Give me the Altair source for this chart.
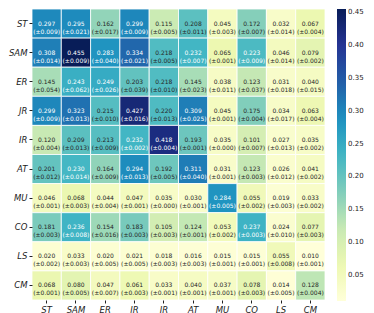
import altair as alt
import pandas as pd

labels = ["ST", "SAM", "ER", "JR", "IR", "AT", "MU", "CO", "LS", "CM"]

row_ST  = [0.297, 0.295, 0.162, 0.299, 0.115, 0.208, 0.045, 0.172, 0.032, 0.067]
row_SAM = [0.308, 0.455, 0.283, 0.334, 0.218, 0.232, 0.065, 0.223, 0.046, 0.079]
row_ER  = [0.145, 0.243, 0.249, 0.203, 0.218, 0.145, 0.038, 0.123, 0.031, 0.040]
row_JR  = [0.299, 0.323, 0.215, 0.427, 0.220, 0.309, 0.045, 0.175, 0.034, 0.063]
row_IR  = [0.120, 0.209, 0.213, 0.232, 0.418, 0.193, 0.035, 0.101, 0.027, 0.035]
row_AT  = [0.201, 0.230, 0.164, 0.294, 0.192, 0.311, 0.031, 0.123, 0.026, 0.041]
row_MU  = [0.046, 0.068, 0.044, 0.047, 0.035, 0.030, 0.284, 0.055, 0.019, 0.033]
row_CO  = [0.181, 0.236, 0.154, 0.183, 0.105, 0.124, 0.053, 0.237, 0.024, 0.077]
row_LS  = [0.020, 0.033, 0.020, 0.021, 0.018, 0.016, 0.015, 0.015, 0.055, 0.010]
row_CM  = [0.068, 0.080, 0.047, 0.061, 0.033, 0.040, 0.037, 0.078, 0.014, 0.128]

std_ST  = [0.009, 0.021, 0.017, 0.009, 0.005, 0.011, 0.003, 0.007, 0.014, 0.004]
std_SAM = [0.014, 0.009, 0.040, 0.021, 0.005, 0.007, 0.001, 0.009, 0.014, 0.002]
std_ER  = [0.054, 0.062, 0.026, 0.039, 0.010, 0.023, 0.011, 0.037, 0.018, 0.015]
std_JR  = [0.009, 0.013, 0.010, 0.016, 0.013, 0.025, 0.001, 0.004, 0.017, 0.004]
std_IR  = [0.004, 0.013, 0.009, 0.002, 0.004, 0.001, 0.000, 0.007, 0.013, 0.002]
std_AT  = [0.012, 0.014, 0.009, 0.013, 0.005, 0.040, 0.001, 0.003, 0.012, 0.002]
std_MU  = [0.001, 0.003, 0.004, 0.001, 0.000, 0.001, 0.005, 0.002, 0.003, 0.002]
std_CO  = [0.003, 0.008, 0.016, 0.003, 0.003, 0.001, 0.002, 0.003, 0.010, 0.003]
std_LS  = [0.002, 0.003, 0.005, 0.005, 0.003, 0.003, 0.001, 0.001, 0.008, 0.001]
std_CM  = [0.001, 0.005, 0.007, 0.003, 0.001, 0.001, 0.001, 0.003, 0.005, 0.004]

colorbar_ticks = [0.05, 0.10, 0.15, 0.20, 0.25, 0.30, 0.35, 0.40, 0.45]
ylgnbu = ["#ffffd9", "#edf8b1", "#c7e9b4", "#7fcdbb", "#41b6c4",
          "#1d91c0", "#225ea8", "#253494", "#081d58"]

rows = [row_ST, row_SAM, row_ER, row_JR, row_IR, row_AT, row_MU, row_CO, row_LS, row_CM]
stds = [std_ST, std_SAM, std_ER, std_JR, std_IR, std_AT, std_MU, std_CO, std_LS, std_CM]

records = []
for i, r in enumerate(labels):
    for j, c in enumerate(labels):
        v = rows[i][j]
        s = stds[i][j]
        records.append({"row": r, "col": c, "value": v,
                        "label": f"{v:.3f}\n(\u00b1{s:.3f})"})
df = pd.DataFrame(records)

vmin = min(min(r) for r in rows)
vmax = max(max(r) for r in rows)

base = alt.Chart(df).encode(
    x=alt.X("col:N", sort=labels, title=None,
            axis=alt.Axis(labelAngle=0, labelFontStyle="italic", labelFontSize=8.5,
                          labelFont="DejaVu Sans", labelColor="#222", tickSize=3,
                          tickColor="#222", domain=False, labelPadding=2)),
    y=alt.Y("row:N", sort=labels, title=None,
            axis=alt.Axis(labelFontStyle="italic", labelFontSize=8.5,
                          labelFont="DejaVu Sans", labelColor="#222", tickSize=3,
                          tickColor="#222", domain=False, labelPadding=2)),
)

rect = base.mark_rect(stroke="white", strokeWidth=0.8).encode(
    color=alt.Color("value:Q",
                    scale=alt.Scale(range=ylgnbu, domain=[vmin, vmax], interpolate="rgb"),
                    legend=alt.Legend(title=None, values=colorbar_ticks, format=".2f",
                                      gradientLength=292, gradientThickness=9,
                                      labelFontSize=7, labelFont="DejaVu Sans",
                                      labelColor="#222", offset=12, padding=0,
                                      gradientStrokeWidth=0))
)

text = base.mark_text(fontSize=6, font="DejaVu Sans", lineHeight=8,
                      lineBreak="\n", baseline="middle").encode(
    text="label:N",
    color=alt.condition(alt.datum.value >= 0.222, alt.value("white"), alt.value("#262626")),
)

chart = (rect + text).properties(width=293, height=291, padding=0).configure_view(stroke=None)

chart.save("out.html", embed_options={"renderer": "svg", "actions": False})
